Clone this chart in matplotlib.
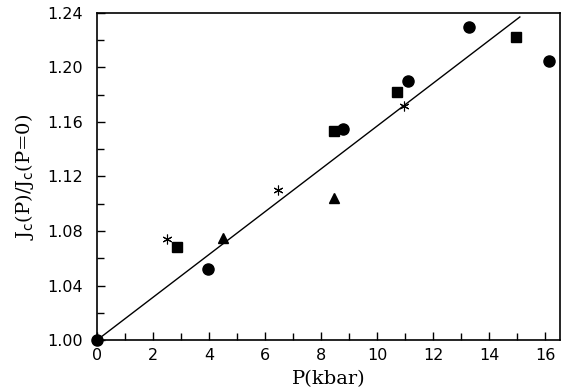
import matplotlib
matplotlib.use("Agg")
import matplotlib.pyplot as plt
from matplotlib.ticker import MultipleLocator, FormatStrFormatter

# Data
circle_p = [0.0, 3.95, 8.8, 11.1, 13.3, 16.15]
circle_j = [1.000, 1.052, 1.155, 1.190, 1.230, 1.205]
square_p = [2.85, 8.45, 10.7, 14.95]
square_j = [1.068, 1.153, 1.182, 1.222]
triangle_p = [4.5, 8.45]
triangle_j = [1.075, 1.104]
star_p = [2.5, 6.45, 10.95]
star_j = [1.074, 1.110, 1.172]
fit_p = [0.0, 15.1]
fit_j = [1.000, 1.237]

fig = plt.figure(figsize=(5.61, 3.90), dpi=100)
ax = fig.add_axes([0.173, 0.128, 0.826, 0.839])

ax.plot(fit_p, fit_j, color="black", lw=1.0, zorder=2)
ax.plot(circle_p, circle_j, "o", color="black", ms=8, zorder=3, clip_on=False)
ax.plot(square_p, square_j, "s", color="black", ms=7, zorder=3)
ax.plot(triangle_p, triangle_j, "^", color="black", ms=7.5, zorder=3)
ax.plot(star_p, star_j, marker=(6, 2, 0), ls="none", color="black", ms=7, mew=0.8, zorder=3)

ax.set_xlim(0, 16.55)
ax.set_ylim(1.00, 1.24)
ax.xaxis.set_major_locator(MultipleLocator(2))
ax.xaxis.set_minor_locator(MultipleLocator(1))
ax.yaxis.set_major_locator(MultipleLocator(0.04))
ax.yaxis.set_minor_locator(MultipleLocator(0.02))
ax.yaxis.set_major_formatter(FormatStrFormatter("%.2f"))
ax.tick_params(which="both", direction="in", top=False, right=False, labelsize=11.5, width=1.0)
ax.tick_params(which="major", length=6)
ax.tick_params(which="minor", length=5)
ax.tick_params(axis="y", which="major", pad=10)
ax.tick_params(axis="x", which="major", pad=6)
for lab in ax.get_xticklabels() + ax.get_yticklabels():
    lab.set_family("DejaVu Sans")
for s in ax.spines.values():
    s.set_linewidth(1.2)

ax.set_xlabel("P(kbar)", family="DejaVu Serif", fontsize=14, labelpad=5)
ax.set_ylabel(r"J$_{\rm c}$(P)/J$_{\rm c}$(P=0)", family="DejaVu Serif", fontsize=14, labelpad=8)

fig.savefig("out.png", dpi=100)
